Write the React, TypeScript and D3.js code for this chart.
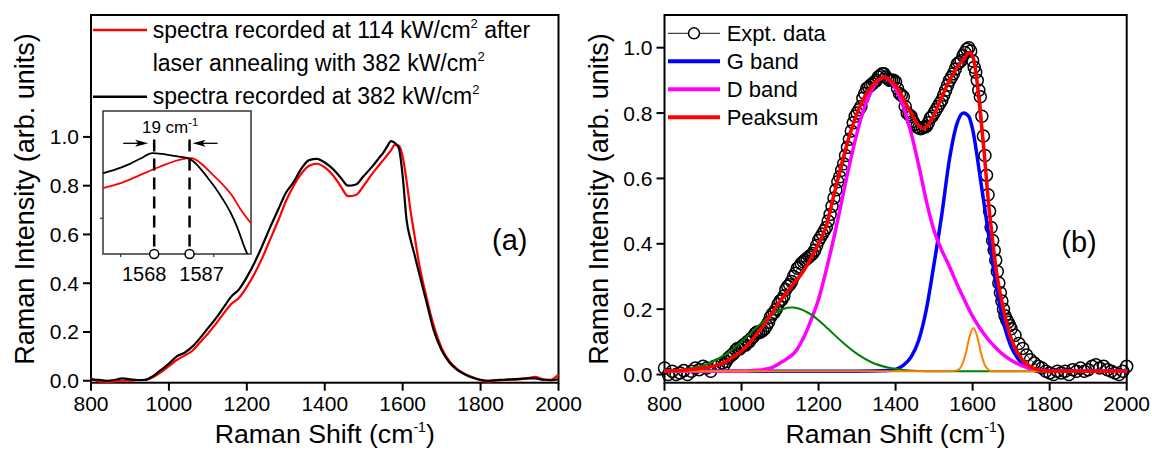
import React from "react";
import * as d3 from "d3";

const FONT = "'Liberation Sans', Arial, Helvetica, sans-serif";

const xTickValues = [800, 1000, 1200, 1400, 1600, 1800, 2000];
const yTickValues = [0, 0.2, 0.4, 0.6, 0.8, 1.0];

// Panel (a): spectrum recorded at 382 kW/cm2 (black)
const spectrum382: [number, number][] = [
  [800, 0.005], [820, 0.004], [840, 0.0], [860, 0.003], [880, 0.01], [900, 0.006], [920, 0.003], [940, 0.004],
  [960, 0.02], [980, 0.045], [1000, 0.07], [1020, 0.1], [1040, 0.115], [1060, 0.14], [1080, 0.175], [1100, 0.215],
  [1120, 0.255], [1140, 0.3], [1160, 0.345], [1180, 0.375], [1200, 0.425], [1220, 0.485], [1240, 0.555], [1260, 0.63],
  [1280, 0.7], [1300, 0.77], [1320, 0.815], [1340, 0.87], [1360, 0.905], [1380, 0.91], [1400, 0.895], [1420, 0.87],
  [1440, 0.835], [1460, 0.8], [1480, 0.805], [1500, 0.84], [1520, 0.875], [1540, 0.915], [1550, 0.935], [1560, 0.96],
  [1570, 0.983], [1580, 0.975], [1590, 0.955], [1600, 0.84], [1610, 0.66], [1620, 0.58], [1630, 0.52], [1640, 0.455],
  [1660, 0.33], [1680, 0.205], [1700, 0.125], [1720, 0.075], [1740, 0.045], [1760, 0.026], [1780, 0.012], [1800, 0.004],
  [1820, 0.0], [1840, 0.003], [1860, 0.004], [1880, 0.006], [1900, 0.008], [1920, 0.01], [1940, 0.01], [1960, 0.004],
  [1980, 0.002], [2000, 0.006],
];

// Panel (a): spectrum recorded at 114 kW/cm2 after annealing (red)
const spectrum114: [number, number][] = [
  [800, 0.01], [820, -0.003], [840, -0.005], [860, -0.003], [880, 0.0], [900, 0.0], [920, 0.002], [940, 0.004],
  [960, 0.015], [980, 0.035], [1000, 0.06], [1020, 0.085], [1040, 0.103], [1060, 0.123], [1080, 0.158], [1100, 0.193],
  [1120, 0.232], [1140, 0.275], [1160, 0.315], [1180, 0.34], [1200, 0.385], [1220, 0.44], [1240, 0.505], [1260, 0.58],
  [1280, 0.655], [1300, 0.735], [1320, 0.8], [1340, 0.85], [1360, 0.882], [1380, 0.89], [1400, 0.875], [1420, 0.845],
  [1440, 0.8], [1460, 0.757], [1480, 0.762], [1500, 0.8], [1520, 0.845], [1540, 0.885], [1550, 0.905], [1560, 0.925],
  [1570, 0.945], [1580, 0.967], [1590, 0.965], [1600, 0.92], [1610, 0.82], [1620, 0.7], [1630, 0.6], [1640, 0.5],
  [1660, 0.35], [1680, 0.225], [1700, 0.135], [1720, 0.08], [1740, 0.048], [1760, 0.028], [1780, 0.014], [1800, 0.002],
  [1820, -0.004], [1840, 0.0], [1860, 0.003], [1880, 0.004], [1900, 0.006], [1920, 0.01], [1940, 0.016], [1960, 0.006],
  [1980, 0.004], [2000, 0.025],
];

// Inset (zoom on the G peak)
const inset382: [number, number][] = [
  [1540.5, 0.913], [1547, 0.918], [1555, 0.926], [1561, 0.934], [1567, 0.941], [1572, 0.94], [1577, 0.938],
  [1582, 0.936], [1587, 0.933], [1592, 0.922], [1596, 0.909], [1601, 0.892], [1605, 0.876], [1609, 0.858],
  [1612.5, 0.838], [1617, 0.806], [1618, 0.8],
];
const inset114: [number, number][] = [
  [1540.5, 0.892], [1550, 0.899], [1560, 0.91], [1571, 0.922], [1582, 0.932], [1588, 0.934], [1593, 0.927],
  [1599, 0.912], [1605, 0.8965], [1610, 0.881], [1614, 0.864], [1620, 0.843],
];
const insetPeaks = [1568, 1587];
const insetTicks = [1550, 1600];
const insetYTicks = [0.85];

// Panel (b): experimental data
const exptData: [number, number][] = [
  [800, 0.02], [810, 0.0], [820, 0.01], [830, 0.0], [840, 0.005], [850, 0.012], [860, 0.0], [870, 0.01], [880, 0.02],
  [890, 0.015], [900, 0.025], [910, 0.02], [920, 0.01], [930, 0.025], [940, 0.03], [950, 0.035], [955, 0.03], [960, 0.04],
  [965, 0.05], [970, 0.055], [975, 0.06], [980, 0.065], [985, 0.075], [990, 0.08], [995, 0.078], [1000, 0.085],
  [1005, 0.09], [1010, 0.09], [1015, 0.1], [1020, 0.1], [1025, 0.11], [1030, 0.115], [1035, 0.125], [1040, 0.13],
  [1045, 0.128], [1050, 0.13], [1055, 0.135], [1060, 0.14], [1065, 0.15], [1070, 0.16], [1075, 0.175], [1080, 0.185],
  [1085, 0.19], [1090, 0.2], [1095, 0.215], [1100, 0.225], [1105, 0.23], [1110, 0.24], [1115, 0.26], [1120, 0.27],
  [1125, 0.275], [1130, 0.285], [1135, 0.3], [1140, 0.31], [1145, 0.325], [1150, 0.33], [1155, 0.34], [1160, 0.345],
  [1165, 0.35], [1170, 0.355], [1175, 0.36], [1180, 0.365], [1185, 0.37], [1190, 0.38], [1195, 0.395], [1200, 0.41],
  [1205, 0.42], [1210, 0.43], [1215, 0.44], [1220, 0.45], [1225, 0.47], [1230, 0.49], [1235, 0.515], [1240, 0.54],
  [1245, 0.565], [1250, 0.59], [1255, 0.605], [1260, 0.625], [1265, 0.645], [1270, 0.67], [1275, 0.695], [1280, 0.72],
  [1285, 0.745], [1290, 0.77], [1295, 0.79], [1300, 0.8], [1305, 0.81], [1310, 0.82], [1315, 0.845], [1320, 0.86],
  [1325, 0.875], [1330, 0.88], [1335, 0.885], [1340, 0.89], [1345, 0.895], [1350, 0.9], [1355, 0.91], [1360, 0.915],
  [1365, 0.92], [1370, 0.92], [1375, 0.91], [1380, 0.905], [1385, 0.9], [1390, 0.9], [1395, 0.9], [1400, 0.895],
  [1405, 0.875], [1410, 0.86], [1415, 0.855], [1420, 0.85], [1425, 0.82], [1430, 0.8], [1435, 0.795], [1440, 0.79],
  [1445, 0.775], [1450, 0.765], [1455, 0.758], [1460, 0.755], [1465, 0.752], [1470, 0.755], [1475, 0.757], [1480, 0.76],
  [1485, 0.77], [1490, 0.785], [1495, 0.79], [1500, 0.8], [1505, 0.81], [1510, 0.82], [1515, 0.83], [1520, 0.84],
  [1525, 0.855], [1530, 0.87], [1535, 0.885], [1540, 0.9], [1545, 0.91], [1550, 0.92], [1555, 0.935], [1560, 0.95],
  [1565, 0.955], [1570, 0.96], [1575, 0.975], [1580, 0.985], [1585, 0.995], [1590, 1.0], [1595, 0.99], [1600, 0.96],
  [1604, 0.94], [1608, 0.925], [1612, 0.9], [1616, 0.87], [1620, 0.85], [1624, 0.79], [1628, 0.73], [1632, 0.67],
  [1636, 0.61], [1640, 0.55], [1644, 0.5], [1648, 0.45], [1652, 0.41], [1656, 0.38], [1660, 0.35], [1664, 0.315],
  [1668, 0.28], [1672, 0.25], [1676, 0.225], [1680, 0.2], [1684, 0.18], [1688, 0.168], [1692, 0.16], [1696, 0.15],
  [1700, 0.14], [1710, 0.12], [1720, 0.095], [1730, 0.08], [1740, 0.06], [1750, 0.045], [1760, 0.035], [1770, 0.025],
  [1780, 0.02], [1790, 0.01], [1800, 0.005], [1810, 0.0], [1820, 0.01], [1830, 0.005], [1840, 0.01], [1850, 0.0],
  [1860, 0.015], [1870, 0.01], [1880, 0.02], [1890, 0.01], [1900, 0.015], [1910, 0.025], [1920, 0.03], [1930, 0.02],
  [1940, 0.025], [1950, 0.015], [1960, 0.01], [1970, 0.005], [1980, 0.0], [1990, 0.01], [2000, 0.025],
];

// Panel (b): fitted components
const gBand: [number, number][] = [
  [800, 0.01], [1300, 0.01], [1380, 0.012], [1400, 0.016], [1420, 0.028], [1440, 0.053], [1460, 0.105], [1480, 0.2],
  [1500, 0.34], [1520, 0.49], [1540, 0.66], [1560, 0.77], [1576, 0.8], [1590, 0.79], [1600, 0.75], [1620, 0.6],
  [1640, 0.44], [1660, 0.28], [1680, 0.16], [1700, 0.085], [1720, 0.045], [1740, 0.023], [1760, 0.014], [1780, 0.011],
  [1850, 0.01], [2000, 0.01],
];
const dBand: [number, number][] = [
  [800, 0.01], [1000, 0.01], [1020, 0.011], [1040, 0.013], [1060, 0.016], [1080, 0.022], [1100, 0.035], [1120, 0.05],
  [1140, 0.07], [1160, 0.11], [1180, 0.165], [1200, 0.23], [1220, 0.32], [1240, 0.42], [1260, 0.53], [1280, 0.64],
  [1300, 0.74], [1320, 0.82], [1340, 0.875], [1360, 0.905], [1370, 0.91], [1380, 0.905], [1400, 0.875], [1420, 0.82],
  [1440, 0.74], [1460, 0.64], [1480, 0.53], [1500, 0.44], [1520, 0.38], [1540, 0.33], [1560, 0.275], [1580, 0.225],
  [1600, 0.178], [1620, 0.14], [1640, 0.108], [1660, 0.082], [1680, 0.06], [1700, 0.044], [1720, 0.031], [1740, 0.022],
  [1760, 0.016], [1780, 0.012], [1800, 0.01], [2000, 0.01],
];
const band1130: [number, number][] = [
  [800, 0.011], [840, 0.014], [880, 0.0215], [920, 0.036], [960, 0.063], [1000, 0.101], [1040, 0.145], [1080, 0.184],
  [1110, 0.2015], [1130, 0.205], [1150, 0.2015], [1180, 0.184], [1220, 0.145], [1260, 0.101], [1300, 0.063],
  [1340, 0.036], [1380, 0.0215], [1420, 0.014], [1460, 0.011], [1500, 0.01], [2000, 0.01],
];
const band1602: [number, number][] = [
  [800, 0.01], [1540, 0.01], [1555, 0.012], [1562, 0.014], [1572, 0.028], [1582, 0.064], [1592, 0.116], [1602, 0.142],
  [1612, 0.116], [1622, 0.064], [1632, 0.028], [1642, 0.014], [1650, 0.01], [2000, 0.01],
];
const peakSum: [number, number][] = [
  [800, 0.01], [850, 0.013], [900, 0.02], [940, 0.03], [960, 0.04], [980, 0.055], [1000, 0.072], [1020, 0.095],
  [1040, 0.125], [1060, 0.155], [1080, 0.19], [1100, 0.225], [1120, 0.255], [1140, 0.285], [1160, 0.315], [1180, 0.355],
  [1200, 0.4], [1220, 0.455], [1240, 0.55], [1260, 0.645], [1280, 0.73], [1300, 0.8], [1320, 0.85], [1340, 0.885],
  [1360, 0.905], [1370, 0.91], [1380, 0.905], [1400, 0.885], [1420, 0.845], [1440, 0.8], [1460, 0.762], [1470, 0.753],
  [1480, 0.758], [1500, 0.795], [1520, 0.85], [1540, 0.9], [1560, 0.94], [1580, 0.97], [1590, 0.985], [1600, 0.975],
  [1610, 0.91], [1620, 0.8], [1630, 0.68], [1640, 0.54], [1650, 0.43], [1660, 0.33], [1680, 0.2], [1700, 0.11],
  [1720, 0.06], [1740, 0.032], [1760, 0.018], [1780, 0.012], [1800, 0.01], [2000, 0.01],
];

const legendA = [
  { color: "#ff0000", lines: ["spectra recorded at 114 kW/cm|2| after", "laser annealing with 382 kW/cm|2|"] },
  { color: "#000000", lines: ["spectra recorded at 382 kW/cm|2|"] },
];
const legendB = [
  { label: "Expt. data", color: "#444444", kind: "symbol" },
  { label: "G band", color: "#0000ff", kind: "line" },
  { label: "D band", color: "#ff00ff", kind: "line" },
  { label: "Peaksum", color: "#ff0000", kind: "line" },
];

const PA = { left: 91, right: 558.5, top: 15, bottom: 382.7 };
const PB = { left: 664.5, right: 1126.7, top: 15, bottom: 382.7 };

type Box = { left: number; right: number; top: number; bottom: number };

function SupText({ s, x, y, size, supSize, anchor }: { s: string; x: number; y: number; size: number; supSize: number; anchor?: string }) {
  const parts = s.split("|");
  return (
    <text x={x} y={y} fontSize={size} fontFamily={FONT} textAnchor={anchor || "start"} fill="#000">
      {parts.map((p, i) =>
        i % 2 === 1 ? (
          <tspan key={i} fontSize={supSize} baselineShift={size * 0.42}>{p}</tspan>
        ) : (
          <tspan key={i}>{p}</tspan>
        )
      )}
    </text>
  );
}

function Axes({ box, x, y }: { box: Box; x: d3.ScaleLinear<number, number>; y: d3.ScaleLinear<number, number> }) {
  const fmt = d3.format(".1f");
  const cx = (box.left + box.right) / 2;
  return (
    <g>
      <rect x={box.left} y={box.top} width={box.right - box.left} height={box.bottom - box.top} fill="none" stroke="#000" strokeWidth={2} />
      {xTickValues.map((t) => (
        <g key={"x" + t}>
          <line x1={x(t)} x2={x(t)} y1={box.bottom} y2={box.bottom + 8} stroke="#000" strokeWidth={2} />
          <text x={x(t)} y={box.bottom + 28.5} fontSize={21} fontFamily={FONT} textAnchor="middle">{t}</text>
        </g>
      ))}
      {yTickValues.map((t) => (
        <g key={"y" + t}>
          <line x1={box.left - 8} x2={box.left} y1={y(t)} y2={y(t)} stroke="#000" strokeWidth={2} />
          <text x={box.left - 12} y={y(t) + 7.5} fontSize={21} fontFamily={FONT} textAnchor="end">{fmt(t)}</text>
        </g>
      ))}
      <SupText s="Raman Shift (cm|-1|)" x={cx} y={443} size={26.7} supSize={14} anchor="middle" />
      <g transform={`translate(${box.left - 57},199) rotate(-90)`}>
        <text x={0} y={0} fontSize={27} fontFamily={FONT} textAnchor="middle">Raman Intensity (arb. units)</text>
      </g>
    </g>
  );
}

export default function App() {
  const xA = d3.scaleLinear().domain([800, 2000]).range([PA.left, PA.right]);
  const yA = d3.scaleLinear().domain([-0.008, 1.5]).range([PA.bottom, PA.top]);
  const xB = d3.scaleLinear().domain([800, 2000]).range([PB.left, PB.right]);
  const yB = d3.scaleLinear().domain([-0.025, 1.1]).range([PB.bottom, PB.top]);
  const IN = { left: 103, right: 251, top: 111, bottom: 254 };
  const xI = d3.scaleLinear().domain([1540.5, 1620]).range([IN.left, IN.right]);
  const yI = d3.scaleLinear().domain([0.8, 1.0]).range([IN.bottom, IN.top]);

  const lineA = d3.line<[number, number]>().x((d) => xA(d[0])).y((d) => yA(d[1])).curve(d3.curveMonotoneX);
  const lineB = d3.line<[number, number]>().x((d) => xB(d[0])).y((d) => yB(d[1])).curve(d3.curveMonotoneX);
  const lineI = d3.line<[number, number]>().x((d) => xI(d[0])).y((d) => yI(d[1])).curve(d3.curveMonotoneX);
  const lineData = d3.line<[number, number]>().x((d) => xB(d[0])).y((d) => yB(d[1]));

  const tipL = xI(insetPeaks[0]) - 6;
  const tipR = xI(insetPeaks[1]) + 3;
  const arrowY = 143.3;

  return (
    <svg width={1152} height={452} style={{ position: "absolute", left: 0, top: 0, background: "#fff" }} fontFamily={FONT}>
      <rect x={0} y={0} width={1152} height={452} fill="#fff" />
      {/* Panel (a) */}
      <Axes box={PA} x={xA} y={yA} />
      <path d={lineA(spectrum114) || ""} fill="none" stroke="#ff0000" strokeWidth={2.2} />
      <path d={lineA(spectrum382) || ""} fill="none" stroke="#000" strokeWidth={2.2} />
      {legendA.map((item, i) => {
        const ly = i === 0 ? 30 : 96.7;
        return (
          <g key={i}>
            <line x1={93} x2={147} y1={ly} y2={ly} stroke={item.color} strokeWidth={2.5} />
            {item.lines.map((ln, j) => (
              <SupText key={j} s={ln} x={152.7} y={ly + 7.5 + j * 33.3} size={23} supSize={13} />
            ))}
          </g>
        );
      })}
      <text x={PA.right - 31} y={250} fontSize={29} fontFamily={FONT} textAnchor="end">(a)</text>

      {/* Inset */}
      <rect x={IN.left} y={IN.top} width={IN.right - IN.left} height={IN.bottom - IN.top} fill="#fff" stroke="#333" strokeWidth={1.5} />
      {insetTicks.map((t) => (
        <line key={t} x1={xI(t)} x2={xI(t)} y1={IN.bottom} y2={IN.bottom + 3} stroke="#333" strokeWidth={1.2} />
      ))}
      {insetYTicks.map((t) => (
        <line key={t} x1={IN.left - 3} x2={IN.left} y1={yI(t)} y2={yI(t)} stroke="#333" strokeWidth={1.2} />
      ))}
      <path d={lineI(inset114) || ""} fill="none" stroke="#ff0000" strokeWidth={1.8} />
      <path d={lineI(inset382) || ""} fill="none" stroke="#000" strokeWidth={1.8} />
      {insetPeaks.map((p) => (
        <line key={"d" + p} x1={xI(p)} x2={xI(p)} y1={139.5} y2={IN.bottom} stroke="#000" strokeWidth={2.5} strokeDasharray="12 7" />
      ))}
      {insetPeaks.map((p) => (
        <circle key={"c" + p} cx={xI(p)} cy={IN.bottom} r={4.5} fill="#fff" stroke="#000" strokeWidth={1.5} />
      ))}
      <text x={xI(insetPeaks[0]) - 10} y={280.7} fontSize={20} fontFamily={FONT} textAnchor="middle">{insetPeaks[0]}</text>
      <text x={xI(insetPeaks[1]) + 12} y={280.7} fontSize={20} fontFamily={FONT} textAnchor="middle">{insetPeaks[1]}</text>
      <SupText s="19 cm|-1|" x={170} y={133.3} size={17} supSize={11} anchor="middle" />
      <line x1={tipL - 25} x2={tipL - 6} y1={arrowY} y2={arrowY} stroke="#000" strokeWidth={1.3} />
      <path d={`M${tipL},${arrowY} L${tipL - 13},${arrowY - 3.5} L${tipL - 10},${arrowY} L${tipL - 13},${arrowY + 3.5} Z`} fill="#000" />
      <line x1={tipR + 25} x2={tipR + 6} y1={arrowY} y2={arrowY} stroke="#000" strokeWidth={1.3} />
      <path d={`M${tipR},${arrowY} L${tipR + 13},${arrowY - 3.5} L${tipR + 10},${arrowY} L${tipR + 13},${arrowY + 3.5} Z`} fill="#000" />

      {/* Panel (b) */}
      <Axes box={PB} x={xB} y={yB} />
      <path d={lineData(exptData) || ""} fill="none" stroke="#444" strokeWidth={1} />
      {exptData.map((d, i) => (
        <circle key={i} cx={xB(d[0])} cy={yB(d[1])} r={6} fill="none" stroke="#000" strokeWidth={1.5} />
      ))}
      <path d={lineB(gBand) || ""} fill="none" stroke="#0000ff" strokeWidth={3.5} />
      <path d={lineB(dBand) || ""} fill="none" stroke="#ff00ff" strokeWidth={3.5} />
      <path d={lineB(band1130) || ""} fill="none" stroke="#008000" strokeWidth={2} />
      <path d={lineB(band1602) || ""} fill="none" stroke="#ff8000" strokeWidth={2} />
      <path d={lineB(peakSum) || ""} fill="none" stroke="#ff0000" strokeWidth={3.5} />
      {legendB.map((item, i) => {
        const ly = 33.3 + i * 28;
        return (
          <g key={item.label}>
            {item.kind === "symbol" ? (
              <g>
                <line x1={668} x2={720} y1={ly} y2={ly} stroke={item.color} strokeWidth={1.3} />
                <circle cx={694} cy={ly} r={5.5} fill="#fff" stroke="#000" strokeWidth={1.5} />
              </g>
            ) : (
              <line x1={668} x2={720} y1={ly} y2={ly} stroke={item.color} strokeWidth={4} />
            )}
            <text x={726.7} y={ly + 7.8} fontSize={22} fontFamily={FONT}>{item.label}</text>
          </g>
        );
      })}
      <text x={PB.right - 30} y={252} fontSize={29} fontFamily={FONT} textAnchor="end">(b)</text>
    </svg>
  );
}
